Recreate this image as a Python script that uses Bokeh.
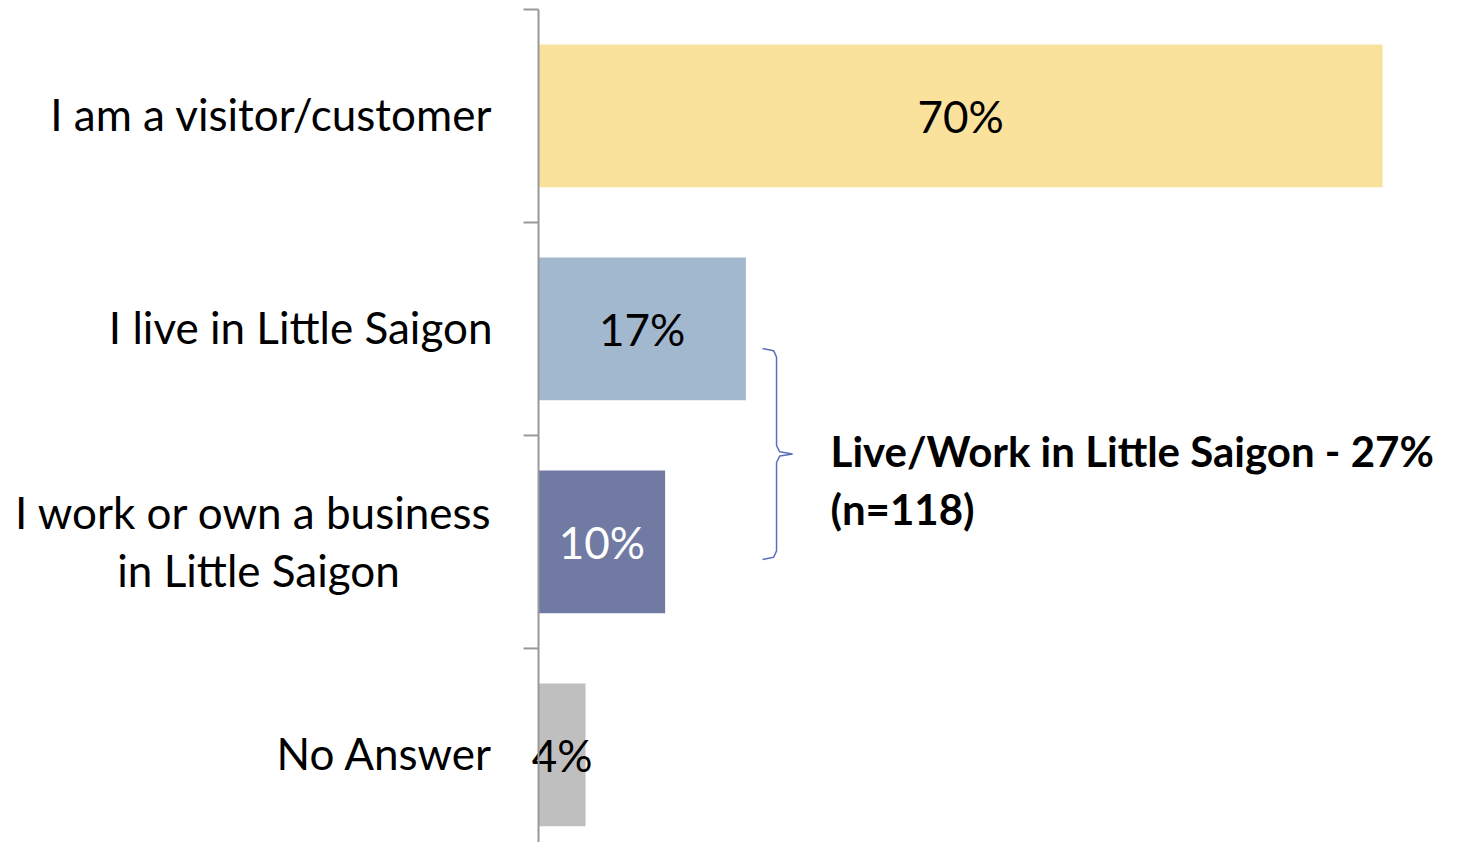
from bokeh.plotting import figure
from bokeh.models import Range1d, ColumnDataSource
from bokeh.core.properties import value
from bokeh.embed import file_html
from bokeh.resources import INLINE

# ---- data ----
categories = ["I am a visitor/customer", "I live in Little Saigon",
              "I work or own a business\nin Little Saigon", "No Answer"]
values = [70, 17.2, 10.5, 3.9]
value_labels = ["70%", "17%", "10%", "4%"]
bar_colors = ["#FAE29C", "#A2B8CF", "#717AA2", "#BFBFBF"]
label_colors = ["#000000", "#000000", "#FFFFFF", "#000000"]
group_text = ["Live/Work in Little Saigon - 27%", "(n=118)"]

FONT = "Lato"
FS = "44px"
n = len(categories)
ypos = [n - 1 - i for i in range(n)]  # top category at highest y

p = figure(width=1452, height=842, output_backend="svg", toolbar_location=None,
           x_range=Range1d(-44.62, 75.8), y_range=Range1d(-0.411, 3.542),
           min_border=0, min_border_left=0, min_border_right=0,
           min_border_top=0, min_border_bottom=0)
p.xaxis.visible = False
p.yaxis.visible = False
p.grid.visible = False
p.outline_line_color = None
p.background_fill_color = "white"

src = ColumnDataSource(dict(y=ypos, v=values, half=[v / 2 for v in values],
                            lab=value_labels, col=bar_colors, tcol=label_colors))
p.hbar(y="y", left=0, right="v", height=0.67, fill_color="col", line_color=None, source=src)
p.text(x="half", y="y", text="lab", text_color="tcol", text_align="center",
       text_baseline="middle", text_font=value(FONT), text_font_size=FS, source=src)

# axis line and boundary ticks
p.segment(x0=[0], y0=[-0.6], x1=[0], y1=[n - 0.5], line_color="#999999", line_width=2)
bounds = [k + 0.5 for k in range(n)]
p.segment(x0=[-1.24] * n, y0=bounds, x1=[0] * n, y1=bounds, line_color="#999999", line_width=2)

# category labels
lab_x = -3.82
for i, c in enumerate(categories):
    lines = c.split("\n")
    if len(lines) == 1:
        p.text(x=[lab_x], y=[ypos[i] + 0.01], text=[c], text_align="right", text_baseline="middle",
               text_font=value(FONT), text_font_size=FS, text_color="#000000")
    else:
        p.text(x=[lab_x], y=[ypos[i] + 0.14], text=[lines[0]], text_align="right",
               text_baseline="middle", text_font=value(FONT), text_font_size=FS,
               text_color="#000000")
        p.text(x=[-23.22], y=[ypos[i] - 0.132], text=[lines[1]], text_align="center",
               text_baseline="middle", text_font=value(FONT), text_font_size=FS,
               text_color="#000000")

# brace grouping "live" and "work"
y_top = ypos[1] - 0.092
y_bot = ypos[2] - 0.082
y_mid = (y_top + y_bot) / 2
bx = [18.58, 19.5, 19.74, 19.74, 20.0, 21.07, 20.0, 19.74, 19.74, 19.5, 18.58]
by = [y_top, y_top - 0.01, y_top - 0.04, y_mid + 0.04, y_mid + 0.01, y_mid,
      y_mid - 0.01, y_mid - 0.04, y_bot + 0.04, y_bot + 0.01, y_bot]
p.line(bx, by, line_color="#5B6FB8", line_width=1.5)

p.text(x=[24.22, 24.22], y=[y_mid + 0.015, y_mid - 0.258], text=group_text, text_align="left",
       text_baseline="middle", text_font=value(FONT), text_font_size="42px",
       text_font_style="bold", text_color="#000000")

open("out.html", "w").write(file_html(p, INLINE))
